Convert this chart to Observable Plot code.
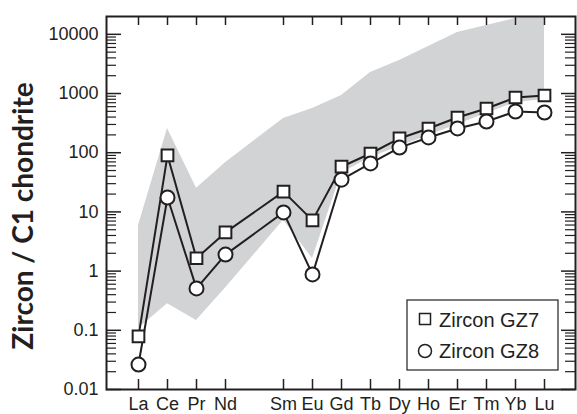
<!DOCTYPE html>
<html>
<head>
<meta charset="utf-8">
<script src="https://cdn.jsdelivr.net/npm/d3@7"></script>
<script src="https://cdn.jsdelivr.net/npm/@observablehq/plot@0.6"></script>
<style>
  html, body { margin: 0; padding: 0; background: #fff; }
  #chart { position: relative; width: 577px; height: 414px; }
</style>
</head>
<body>
<div id="chart"></div>
<script>
// Rare-earth elements in atomic order (Pm has no data and no tick)
const elements = ["La","Ce","Pr","Nd","Pm","Sm","Eu","Gd","Tb","Dy","Ho","Er","Tm","Yb","Lu"];
// Chondrite-normalised values
const gz7 = [0.079, 90, 1.65, 4.5, null, 22, 7.2, 58, 97, 174, 256, 393, 558, 856, 925];
const gz8 = [0.0264, 17.5, 0.51, 1.9, null, 9.8, 0.88, 35, 66, 122, 181, 257, 337, 497, 478];
// Grey field (range of reference zircons)
const bandLow  = [0.107, 0.28, 0.147, 0.52, null, 7.2, 1.63, 45, 83, 127, 195, 300, 459, 705, 792];
const bandHigh = [5.9, 256, 25, 68, null, 378, 558, 925, 2265, 3610, 6220, 10700, 14100, 18500, 22000];
const yMajor = [0.01, 0.1, 1, 10, 100, 1000, 10000];
const seriesNames = ["Zircon GZ7", "Zircon GZ8"];

const ink = "#231f20";
const grey = "#d1d3d4";

const W = 577, H = 414;
const mL = 106, mR = 2, mT = 16, mB = 25;
const fW = W - mL - mR, fH = H - mT - mB;

const rows7 = elements.map((e, i) => ({el: e, v: gz7[i]})).filter(d => d.v != null);
const rows8 = elements.map((e, i) => ({el: e, v: gz8[i]})).filter(d => d.v != null);
const band = elements.map((e, i) => ({el: e, lo: bandLow[i], hi: bandHigh[i]})).filter(d => d.lo != null);
const xTicks = elements.filter(e => e !== "Pm");
const yMinor = [];
for (let k = -2; k <= 3; k++) for (let m = 2; m <= 9; m++) yMinor.push(m * Math.pow(10, k));

const plot = Plot.plot({
  width: W, height: H,
  marginLeft: mL, marginRight: mR, marginTop: mT, marginBottom: mB,
  style: {fontFamily: "'Liberation Sans', Arial, Helvetica, sans-serif", fontSize: "18px", color: ink, background: "#fff"},
  x: {type: "point", domain: elements, padding: 1},
  y: {type: "log", domain: [0.01, 20000]},
  marks: [
    Plot.areaY(band, {x: "el", y1: "lo", y2: "hi", fill: grey, clip: true}),
    // inward ticks
    Plot.ruleX(xTicks, {x: d => d, insetTop: fH - 10, stroke: ink, strokeWidth: 1.5}),
    Plot.ruleX(xTicks, {x: d => d, insetBottom: fH - 9, stroke: ink, strokeWidth: 1.5}),
    Plot.ruleY(yMajor, {y: d => d, insetRight: fW - 15, stroke: ink, strokeWidth: 1.5}),
    Plot.ruleY(yMinor, {y: d => d, insetRight: fW - 10, stroke: ink, strokeWidth: 1.2}),
    Plot.ruleY(yMajor, {y: d => d, insetLeft: fW - 14, stroke: ink, strokeWidth: 1.5}),
    Plot.ruleY(yMinor, {y: d => d, insetLeft: fW - 10, stroke: ink, strokeWidth: 1.2}),
    Plot.axisX({ticks: xTicks, tickSize: 0, tickPadding: 8, fontSize: 18, fill: ink, label: null}),
    Plot.axisY({ticks: yMajor, tickSize: 0, tickPadding: 8, fontSize: 18, fill: ink,
      tickFormat: d => String(d), label: null}),
    Plot.line(rows7, {x: "el", y: "v", stroke: ink, strokeWidth: 2}),
    Plot.line(rows8, {x: "el", y: "v", stroke: ink, strokeWidth: 2}),
    Plot.dot(rows7, {x: "el", y: "v", symbol: "square", r: 6.6, fill: "#fff", stroke: ink, strokeWidth: 2}),
    Plot.dot(rows8, {x: "el", y: "v", symbol: "circle", r: 7, fill: "#fff", stroke: ink, strokeWidth: 2}),
    Plot.frame({stroke: ink, strokeWidth: 2})
  ]
});

document.getElementById("chart").appendChild(plot);

const svg = d3.select(plot);
// y-axis title
svg.append("text")
  .attr("transform", "translate(33,216) rotate(-90)")
  .attr("text-anchor", "middle")
  .attr("fill", ink)
  .style("font-family", "Lato, 'Open Sans', sans-serif")
  .style("font-weight", "bold")
  .style("font-size", "28px")
  .text("Zircon / C1 chondrite");

// legend
const lg = svg.append("g");
lg.append("rect").attr("x", 407).attr("y", 300).attr("width", 151).attr("height", 70)
  .attr("fill", "#fff").attr("stroke", ink).attr("stroke-width", 1.2);
lg.append("rect").attr("x", 419.5).attr("y", 313.5).attr("width", 11).attr("height", 11)
  .attr("fill", "#fff").attr("stroke", ink).attr("stroke-width", 1.5);
lg.append("circle").attr("cx", 425).attr("cy", 351).attr("r", 6.5)
  .attr("fill", "#fff").attr("stroke", ink).attr("stroke-width", 1.5);
seriesNames.forEach((name, i) => {
  lg.append("text").attr("x", 439).attr("y", 327 + i * 31)
    .attr("text-anchor", "start")
    .attr("fill", ink)
    .style("font-family", "'Liberation Sans', Arial, sans-serif")
    .style("font-size", "20px")
    .text(name);
});
</script>
</body>
</html>
